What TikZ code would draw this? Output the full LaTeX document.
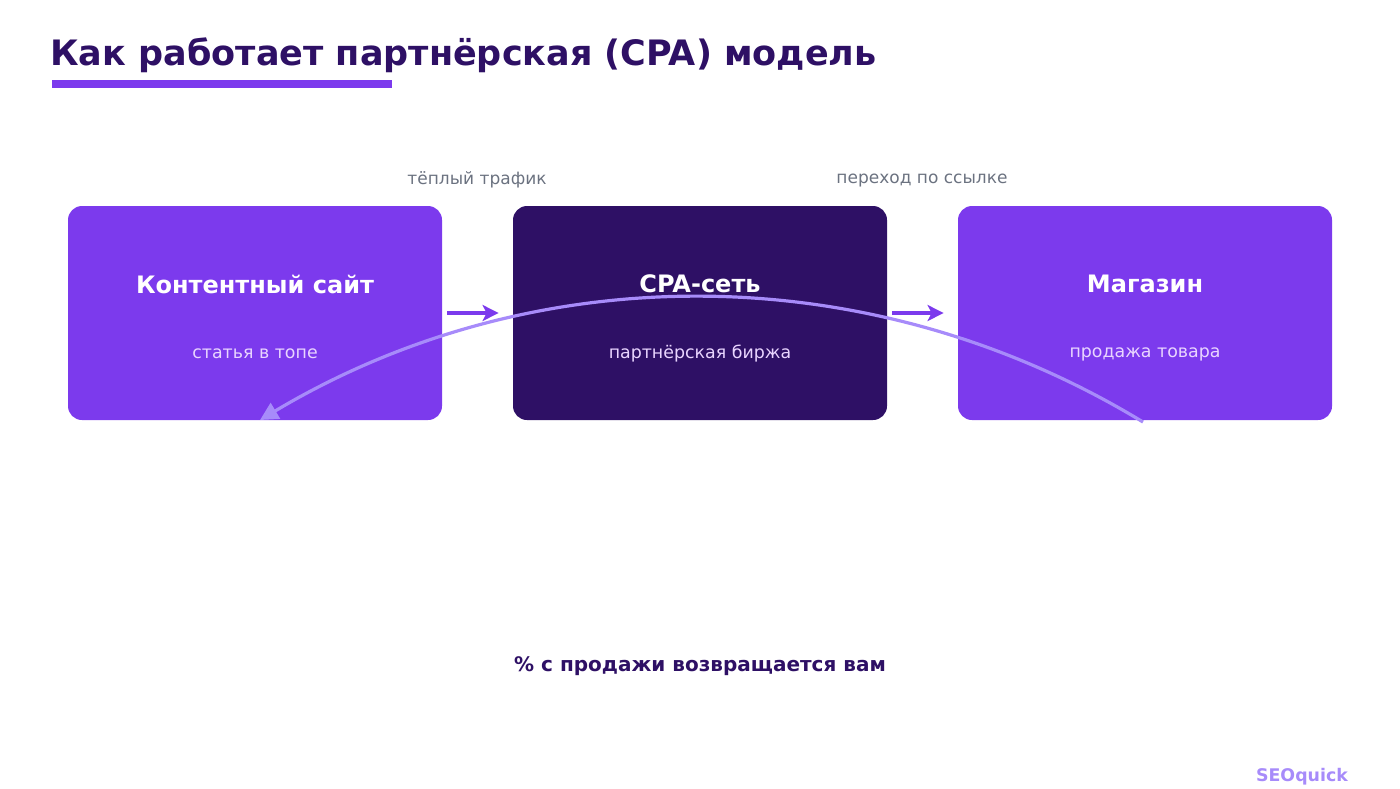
\documentclass[tikz,border=0pt]{standalone}
\usepackage{fontspec}
\setmainfont{DejaVu Sans}
\usetikzlibrary{arrows.meta}
\definecolor{vio}{HTML}{7C3AED}
\definecolor{dark}{HTML}{2E1065}
\definecolor{lav}{HTML}{A78BFA}
\definecolor{sub}{HTML}{E9D5FF}
\definecolor{gr}{HTML}{6B7280}
\begin{document}
\begin{tikzpicture}[x=0.5pt,y=-0.5pt,
  box/.style={rounded corners=7pt,inner sep=0pt,minimum width=187pt,minimum height=107pt},
  ttl/.style={text=white,font=\bfseries\fontsize{12}{14}\selectfont},
  sb/.style={text=sub,font=\fontsize{8.7}{10}\selectfont},
  lbl/.style={text=gr,font=\fontsize{8.5}{10}\selectfont},
  sa/.style={draw=vio,line width=2pt,-{Stealth[length=8pt,width=8pt,inset=2pt]}}]
\useasboundingbox (0,0) rectangle (1400,788);
\node[anchor=base west,text=dark,font=\bfseries\fontsize{17.5}{20}\selectfont,inner sep=0pt] (title) at (50,65) {Как работает партнёрская (CPA) модель};
\fill[vio] (52,80) rectangle (392,88);
\node[box,fill=vio] (b1) at (255,313) {};
\node[box,fill=dark] (b2) at (700,313) {};
\node[box,fill=vio] (b3) at (1145,313) {};
\node[ttl] (t1) at (255,284) {Контентный сайт};
\node[ttl] (t2) at (700,284) {CPA-сеть};
\node[ttl] (t3) at (1145,284) {Магазин};
\node[sb] (s1) at (255,354) {статья в топе};
\node[sb] (s2) at (700,354) {партнёрская биржа};
\node[sb] (s3) at (1145,354) {продажа товара};
\node[lbl] (l1) at (477,180) {тёплый трафик};
\node[lbl] (l2) at (922,180) {переход по ссылке};
\draw[sa] (b1.east)++(5,0) -- ([xshift=-7]b2.west);
\draw[sa] (b2.east)++(5,0) -- ([xshift=-7]b3.west);
\coordinate (cs) at (1143,422);
\coordinate (ce) at (260,420);
\draw[draw=lav,line width=1.6pt,-{Triangle[length=9pt,width=9pt]}] (cs) .. controls (870,256) and (535,256) .. (ce);
\node[text=dark,font=\bfseries\fontsize{10}{12}\selectfont] (bt) at (700,666) {\% с продажи возвращается вам};
\node[text=lav,font=\bfseries\fontsize{8.7}{10}\selectfont] (seo) at (1302,777) {SEOquick};
\end{tikzpicture}
\end{document}
